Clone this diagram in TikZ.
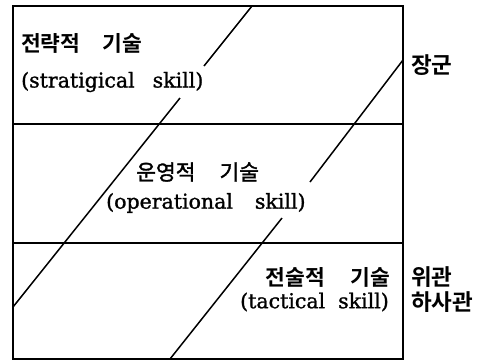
\documentclass[tikz,border=0pt]{standalone}
\usepackage{fontspec}
\newfontfamily\kr{Noto Sans CJK KR}[BoldFont={Noto Sans CJK KR Bold}]
\newfontfamily\krmid{Noto Sans CJK KR}[FakeBold=1.5]
\newfontfamily\enserif{DejaVu Serif}[FakeBold=1.2]
\tikzset{
  frame/.style={draw, line width=1.6bp},
  diag/.style={draw, line width=1.5bp},
  entxt/.style={inner sep=0pt, font=\enserif\fontsize{20.5bp}{24bp}\selectfont},
  krtxt/.style={inner sep=0pt, font=\kr\bfseries\fontsize{21.5bp}{24bp}\selectfont},
  sidetxt/.style={inner sep=0pt, anchor=west, font=\kr\bfseries\fontsize{22.5bp}{24bp}\selectfont}
}
\begin{document}
\begin{tikzpicture}[x=1bp,y=-1bp]
\useasboundingbox (0,0) rectangle (487,362);
% frame
\coordinate (tl) at (13,6);
\coordinate (br) at (403,359);
\coordinate (m1l) at (13,124);
\coordinate (m1r) at (403,124);
\coordinate (m2l) at (13,243);
\coordinate (m2r) at (403,243);
\draw[frame] (tl) rectangle (br);
\draw[frame] (m1l) -- (m1r);
\draw[frame] (m2l) -- (m2r);
% diagonal 1
\coordinate (a0) at (252,6);
\coordinate (a1) at (204,66);
\coordinate (a2) at (180,98);
\coordinate (a3) at (13,307);
\draw[diag] (a0) -- (a1);
\draw[diag] (a2) -- (a3);
% diagonal 2
\coordinate (b0) at (403,60);
\coordinate (b1) at (310,182);
\coordinate (b2) at (282,218);
\coordinate (b3) at (170,359);
\draw[diag] (b0) -- (b1);
\draw[diag] (b2) -- (b3);
% texts
\node[krtxt, anchor=west] (t1k) at (21,43) {전략적\hspace{22bp}기술};
\node[entxt, anchor=west] (t1e) at (21,82) {(stratigical\hspace{18bp}skill)};
\node[krtxt, anchor=west, font=\krmid\fontsize{21.5bp}{24bp}\selectfont] (t2k) at (136,172) {운영적\hspace{24bp}기술};
\node[entxt, anchor=west] (t2e) at (106,203) {(operational\hspace{22bp}skill)};
\node[krtxt, anchor=east] (t3k) at (390,277) {전술적\hspace{25bp}기술};
\node[entxt, anchor=east] (t3e) at (389,302) {(tactical\hspace{13bp}skill)};
\node[sidetxt] (s1) at (411,65) {장군};
\node[sidetxt] (s2) at (411,277) {위관};
\node[sidetxt] (s3) at (411,302) {하사관};
\end{tikzpicture}
\end{document}
